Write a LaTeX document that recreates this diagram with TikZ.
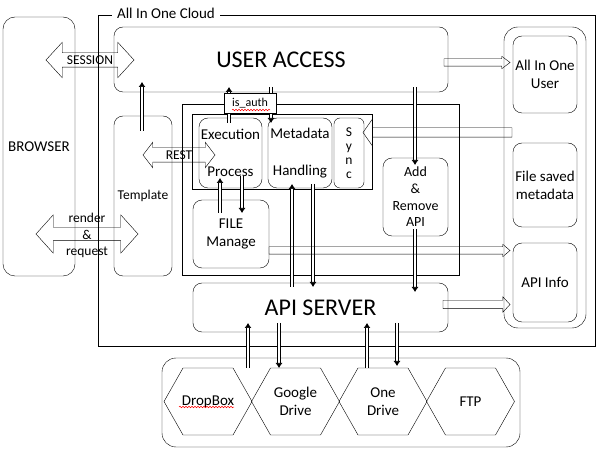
\documentclass[tikz,border=0pt]{standalone}
\usepackage{fontspec}
\setmainfont{Carlito}
\usetikzlibrary{positioning, arrows.meta, shapes.arrows, decorations.pathmorphing}
\tikzset{
x=1pt, y=-1pt, % one unit is one pixel of the sketch, y runs down
line width=0.8pt,
every node/.style={inner sep=0pt, outer sep=0pt, font=\fontsize{15}{18}\selectfont},
rbox/.style={draw, rounded corners=9pt, align=center}, % rounded boxes
sbox/.style={draw, align=center}, % square boxes
small/.style={font=\fontsize{13.5}{16.5}\selectfont},
big/.style={font=\fontsize{24}{28}\selectfont},
thin arrow/.style={double, double distance=2.2pt, line width=0.7pt, -{Latex[length=5pt,width=7pt]}}, % the small hollow arrows
fat arrow/.style={single arrow, draw, inner xsep=0pt, minimum width=0pt, anchor=tail}, % the wide hollow arrows
both arrow/.style={double arrow, draw, inner xsep=0pt, minimum width=0pt}, % two-headed arrows
squiggle/.style={draw=red, line width=0.5pt, decorate, decoration={snake, amplitude=0.8pt, segment length=3pt}}, % spell check marks
}
\begin{document}
\begin{tikzpicture}
\useasboundingbox (0,0) rectangle (608,454);

% cloud frame
\node[sbox, minimum width=497pt, minimum height=331pt] (cloud) at (346.5,180.5) {};
\node[fill=white, inner xsep=5pt, inner ysep=2pt] (cloudname) at (166,13) {All In One Cloud};

% left side
\node[rbox, rounded corners=12pt, minimum width=72pt, minimum height=259pt] (browser) at (39,146.5) {BROWSER};
\node[rbox, big, minimum width=334pt, minimum height=65pt] (ua) at (281,59.5) {USER ACCESS};
\node[rbox, small, minimum width=58pt, minimum height=160pt] (tmpl) at (143,196) {Template};

% processing block
\node[sbox, minimum width=277pt, minimum height=171pt] (proc) at (320.5,189.5) {};
\node[sbox, minimum width=180pt, minimum height=75pt] (grp) at (282,151.5) {};
\node[rbox, minimum width=63pt, minimum height=70pt] (exec) at (230.5,153) {Execution\\[19pt]Process};
\node[rbox, minimum width=64pt, minimum height=70pt] (meta) at (300,153) {Metadata\\[19pt]Handling};
\node[rbox, rounded corners=6pt, minimum width=30pt, minimum height=70pt, font=\fontsize{13.5}{14}\selectfont] (sync) at (349,153) {S\\y\\n\\c};
\node[rbox, minimum width=76pt, minimum height=68pt] (fm) at (231,234) {FILE\\Manage};
\node[rbox, font=\fontsize{14}{16.7}\selectfont, minimum width=65pt, minimum height=78pt] (addrm) at (415.5,197) {Add\\\&\\Remove\\API};
\node[rbox, big, minimum width=255pt, minimum height=49pt] (api) at (320.5,307.5) {API SERVER};

% stores on the right
\node[rbox, rounded corners=14pt, minimum width=82pt, minimum height=301pt] (store) at (545,177.5) {};
\node[rbox, minimum width=64pt, minimum height=77pt] (aiouser) at (545,74.5) {All In One\\User};
\node[rbox, minimum width=64pt, minimum height=84pt] (fsm) at (545,185) {File saved\\metadata};
\node[rbox, minimum width=64pt, minimum height=79pt] (apiinfo) at (545,282.5) {API Info};

% cloud drives
\node[rbox, rounded corners=14pt, minimum width=358pt, minimum height=89pt] (cs) at (341,402.5) {};
\node (dbx) at (208,401.5) {DropBox};
\node[align=center] (gdr) at (295.5,401.5) {Google\\Drive};
\node[align=center] (odr) at (383,401.5) {One\\Drive};
\node (ftp) at (470.5,401.5) {FTP};
\foreach \h in {dbx,gdr,odr,ftp}
  \draw[shift={(\h.center)}] (-44,0) -- (-25,-33.5) -- (25,-33.5) -- (44,0) -- (25,33.5) -- (-25,33.5) -- cycle;

% two-headed arrows
\node[both arrow, small, text height=9pt, text depth=0pt, minimum height=88pt, inner ysep=2.5pt, double arrow head extend=10.5pt, double arrow tip angle=95] (session) at (90,60) {SESSION};
\node[both arrow, small, text height=9pt, text depth=0pt, minimum height=72pt, inner ysep=2.5pt, double arrow head extend=5.5pt, double arrow tip angle=105] (rest) at (179,155) {REST};
\node[both arrow, minimum height=102pt, inner ysep=6.5pt, double arrow head extend=12.5pt, double arrow tip angle=96] (render) at (87,234) {};
\node[small, align=center] (rendertxt) at (87,235.5) {render\\\&\\request};

% thin arrows
\draw[thin arrow] ([xshift=-1pt,yshift=-15pt]tmpl.north) -- ([xshift=-139pt,yshift=10pt]ua.south);
\draw[thin arrow] ([xshift=-1.5pt,yshift=-5pt]exec.north) -- ([xshift=-52pt,yshift=5pt]ua.south);
\draw[thin arrow] ([xshift=-10pt,yshift=5pt]ua.south) -- ([xshift=-29pt,yshift=-5pt]meta.north);
\draw[thin arrow] ([xshift=-11pt,yshift=-13pt]fm.north) -- ([xshift=-10.5pt,yshift=10pt]exec.south);
\draw[thin arrow] ([xshift=11.5pt,yshift=12pt]exec.south) -- ([xshift=11pt,yshift=-13pt]fm.north);
\draw[thin arrow] ([xshift=-28.5pt,yshift=-4pt]api.north) -- ([xshift=-8pt,yshift=4pt]meta.south);
\draw[thin arrow] ([xshift=13pt,yshift=4pt]meta.south) -- ([xshift=-7.5pt,yshift=-4pt]api.north);
\draw[thin arrow] ([xshift=134pt,yshift=5pt]ua.south) -- ([xshift=-0.5pt,yshift=-7pt]addrm.north);
\draw[thin arrow] ([xshift=-0.5pt,yshift=7pt]addrm.south) -- ([xshift=94.5pt,yshift=-9pt]api.north);
\draw[thin arrow] ([xshift=40pt,yshift=33.5pt]dbx.center) -- ([xshift=-72.5pt,yshift=9pt]api.south);
\draw[thin arrow] ([xshift=-41.5pt,yshift=9pt]api.south) -- ([xshift=-16.5pt,yshift=33.5pt]gdr.center);
\draw[thin arrow] ([xshift=-16pt,yshift=33.5pt]odr.center) -- ([xshift=46.5pt,yshift=9pt]api.south);
\draw[thin arrow] ([xshift=76.5pt,yshift=9pt]api.south) -- ([xshift=14pt,yshift=35.5pt]odr.center);

% wide arrows
\node[fat arrow, minimum height=66pt, inner ysep=3.5pt, single arrow head extend=2.5pt, single arrow tip angle=74] (touser) at ([xshift=-4pt,yshift=-3pt]ua.east) {};
\node[fat arrow, shape border rotate=180, minimum height=149pt, inner ysep=4.5pt, single arrow head extend=8.5pt, single arrow tip angle=110] (tosync) at ([xshift=8pt,yshift=45pt]store.west) {};
\node[fat arrow, minimum height=241pt, inner ysep=3.5pt, single arrow head extend=2.5pt, single arrow tip angle=81] (toinfo) at ([yshift=-16.5pt]fm.east) {};
\node[fat arrow, minimum height=67pt, inner ysep=4pt, single arrow head extend=3.5pt, single arrow tip angle=94] (apitoinfo) at ([xshift=-5pt,yshift=3pt]api.east) {};

% auth gate on top of the arrows
\node[sbox, fill=white, font=\fontsize{12}{14}\selectfont, minimum width=52pt, minimum height=20pt] (auth) at (250,103) {is\_auth};
\draw[squiggle] ([xshift=-18pt,yshift=-7pt]auth.center) -- ([xshift=20pt,yshift=-7pt]auth.center);
\draw[squiggle] ([xshift=-29pt,yshift=-5.5pt]dbx.center) -- ([xshift=26pt,yshift=-5.5pt]dbx.center);
\end{tikzpicture}
\end{document}
